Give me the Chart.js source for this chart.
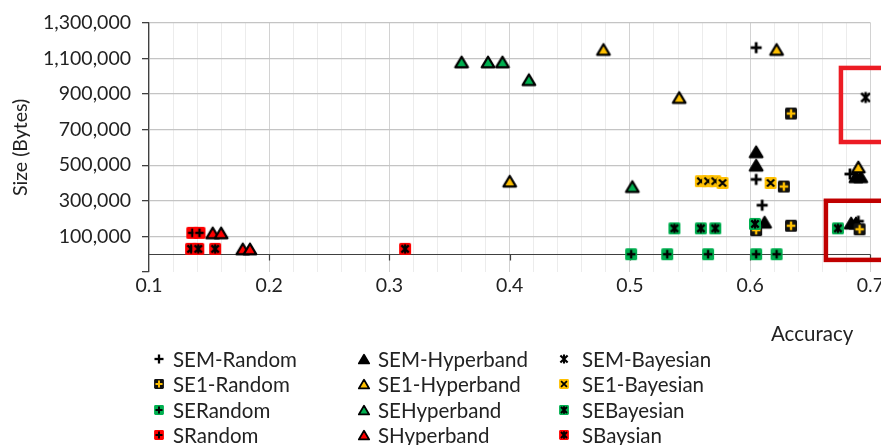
<!DOCTYPE html>
<html>
<head>
<meta charset="utf-8">
<script src="https://cdn.jsdelivr.net/npm/chart.js@4.4.1/dist/chart.umd.min.js"></script>
<style>
  html, body { margin: 0; padding: 0; background: #fff; overflow: hidden; width: 881px; height: 445px; }
  #wrap { position: absolute; left: 0; top: 0; width: 886px; height: 296px; }
  #legend { position: absolute; left: 0; top: 0; width: 881px; height: 445px; pointer-events: none;
            font-family: Lato, "Liberation Sans", sans-serif; font-size: 20.5px; color: #222; }
  .item { position: absolute; height: 24px; line-height: 24px; white-space: nowrap; }
  .swatch { position: absolute; }
  #xtitle { position: absolute; left: 771px; top: 321px; height: 24px; line-height: 24px;
            font-family: Lato, "Liberation Sans", sans-serif; font-size: 20.5px; color: #222; white-space: nowrap; }
</style>
</head>
<body>
<div id="wrap"><canvas id="chart"></canvas></div>
<div id="legend"></div>
<div id="xtitle">Accuracy</div>
<script>
// Series names, in legend order (row by row)
const seriesNames = [
  'SEM-Random', 'SEM-Hyperband', 'SEM-Bayesian',
  'SE1-Random', 'SE1-Hyperband', 'SE1-Bayesian',
  'SERandom', 'SEHyperband', 'SEBayesian',
  'SRandom', 'SHyperband', 'SBaysian'
];

// Each point is [accuracy, size in bytes]
const semRandom     = [[0.605, 1160000], [0.605, 420000], [0.610, 275000], [0.683, 450000], [0.690, 185000]];
const semHyperband  = [[0.605, 575000], [0.605, 500000], [0.612, 180000], [0.688, 435000], [0.692, 435000], [0.684, 175000], [0.688, 175000]];
const semBayesian   = [[0.696, 880000]];
const se1Random     = [[0.634, 790000], [0.628, 380000], [0.634, 160000], [0.691, 140000], [0.605, 135000]];
const se1Hyperband  = [[0.400, 410000], [0.478, 1150000], [0.541, 880000], [0.622, 1150000], [0.690, 490000]];
const se1Bayesian   = [[0.559, 410000], [0.565, 410000], [0.571, 410000], [0.577, 400000], [0.617, 400000]];
const seRandom      = [[0.501, 0], [0.531, 0], [0.565, 0], [0.605, 0], [0.622, 0]];
const seHyperband   = [[0.360, 1080000], [0.382, 1080000], [0.394, 1080000], [0.416, 980000], [0.502, 380000]];
const seBayesian    = [[0.537, 145000], [0.559, 145000], [0.571, 145000], [0.604, 170000], [0.673, 145000]];
const sRandom       = [[0.136, 120000], [0.142, 120000]];
const sHyperband    = [[0.153, 120000], [0.160, 120000], [0.178, 30000], [0.184, 30000]];
const sBaysian      = [[0.135, 30000], [0.141, 30000], [0.155, 30000], [0.313, 30000]];

const seriesData = [semRandom, semHyperband, semBayesian, se1Random, se1Hyperband, se1Bayesian,
                    seRandom, seHyperband, seBayesian, sRandom, sHyperband, sBaysian];

// Axis ticks
const sizeTicks = [100000, 300000, 500000, 700000, 900000, 1100000, 1300000];
const accuracyTicks = [0.1, 0.2, 0.3, 0.4, 0.5, 0.6, 0.7];

// Highlighted regions (accuracy range, size range)
const highlights = [
  { acc: [0.6755, 0.80], size: [630000, 1046000], color: '#EC1C24' },
  { acc: [0.663, 0.80], size: [-32000, 300000], color: '#C00000' }
];

const YELLOW = '#FFC000', GREEN = '#00B050', RED = '#FF0000', INK = '#000000';

// Marker look for each series
const markerStyles = [
  ['plus', INK, INK], ['triangle', INK, INK], ['star', INK, INK],
  ['boxPlus', '#111111', YELLOW], ['triangle', YELLOW, INK], ['boxCross', YELLOW, INK],
  ['boxPlus', GREEN, INK], ['triangle', GREEN, INK], ['boxStar', GREEN, INK],
  ['boxPlus', RED, INK], ['triangle', RED, INK], ['boxStar', RED, INK]
];

function roundRect(g, x, y, w, h, r) {
  g.beginPath();
  g.moveTo(x + r, y);
  g.lineTo(x + w - r, y); g.quadraticCurveTo(x + w, y, x + w, y + r);
  g.lineTo(x + w, y + h - r); g.quadraticCurveTo(x + w, y + h, x + w - r, y + h);
  g.lineTo(x + r, y + h); g.quadraticCurveTo(x, y + h, x, y + h - r);
  g.lineTo(x, y + r); g.quadraticCurveTo(x, y, x + r, y);
  g.closePath();
}

function markerCanvas(kind, fill, ink, scale) {
  const s = 18;
  const c = document.createElement('canvas');
  c.width = s; c.height = s;
  const g = c.getContext('2d');
  g.translate(s / 2, s / 2);
  g.scale(scale, scale);
  const box = () => { g.fillStyle = fill; roundRect(g, -6, -6, 12, 12, 1.6); g.fill(); };
  const plus = (a, w) => { g.fillStyle = ink; g.fillRect(-a, -w / 2, 2 * a, w); g.fillRect(-w / 2, -a, w, 2 * a); };
  const cross = (a, w) => {
    g.strokeStyle = ink; g.lineWidth = w; g.lineCap = 'butt';
    g.beginPath(); g.moveTo(-a, -a); g.lineTo(a, a); g.moveTo(a, -a); g.lineTo(-a, a); g.stroke();
  };
  const star = (a, w) => {
    cross(a * 0.8, w);
    g.beginPath(); g.moveTo(0, -a); g.lineTo(0, a); g.stroke();
  };
  switch (kind) {
    case 'plus': plus(5.5, 2.8); break;
    case 'boxPlus': box(); plus(4.3, 2.4); break;
    case 'triangle':
      g.beginPath(); g.moveTo(0, -5.3); g.lineTo(6.3, 5.4); g.lineTo(-6.3, 5.4); g.closePath();
      g.fillStyle = fill; g.fill();
      g.lineWidth = 2.2; g.lineJoin = 'round'; g.strokeStyle = ink; g.stroke();
      break;
    case 'star': star(5.5, 2.6); break;
    case 'boxStar': box(); star(4.6, 2.3); break;
    case 'boxCross': box(); cross(3.6, 2.1); break;
  }
  return c;
}

const fmt = v => String(v).replace(/\B(?=(\d{3})+(?!\d))/g, ',');
const FONT = 'Lato, "Liberation Sans", sans-serif';
const TEXT = '#222222';

// Horizontal axis line at size 0 with its tick marks
const zeroLinePlugin = {
  id: 'zeroLine',
  beforeDatasetsDraw(chart) {
    const { ctx, chartArea, scales } = chart;
    const y0 = Math.round(scales.y.getPixelForValue(0)) + 0.5;
    ctx.save();
    ctx.strokeStyle = '#404040';
    ctx.lineWidth = 1.2;
    ctx.beginPath();
    ctx.moveTo(chartArea.left, y0); ctx.lineTo(chartArea.right, y0);
    accuracyTicks.slice(1).forEach(v => {
      const x = Math.round(scales.x.getPixelForValue(v)) + 0.5;
      ctx.moveTo(x, y0); ctx.lineTo(x, y0 + 6);
    });
    ctx.stroke();
    ctx.restore();
  }
};

// Outline boxes around regions of interest
const highlightPlugin = {
  id: 'highlight',
  afterDraw(chart) {
    const { ctx, scales } = chart;
    ctx.save();
    highlights.forEach(h => {
      const x0 = scales.x.getPixelForValue(h.acc[0]), x1 = scales.x.getPixelForValue(h.acc[1]);
      const y0 = scales.y.getPixelForValue(h.size[1]), y1 = scales.y.getPixelForValue(h.size[0]);
      ctx.strokeStyle = h.color;
      ctx.lineWidth = 4.5;
      ctx.strokeRect(x0, y0, x1 - x0, y1 - y0);
    });
    ctx.restore();
  }
};

const datasets = seriesNames.map((name, i) => ({
  label: name,
  data: seriesData[i].map(([acc, size]) => ({ x: acc, y: size })),
  pointStyle: markerCanvas(markerStyles[i][0], markerStyles[i][1], markerStyles[i][2], 1),
  pointRadius: 6,
  order: seriesNames.length - i
}));

new Chart(document.getElementById('chart'), {
  type: 'scatter',
  data: { datasets },
  options: {
    responsive: true,
    maintainAspectRatio: false,
    animation: false,
    layout: { padding: { top: 22, right: 14, left: 0, bottom: 0 } },
    plugins: { legend: { display: false }, tooltip: { enabled: false } },
    scales: {
      x: {
        type: 'linear', min: 0.1, max: 0.7,
        afterBuildTicks(scale) {
          const ticks = [];
          for (let i = 0; i < accuracyTicks.length - 1; i++) {
            for (let k = 0; k < 5; k++) {
              ticks.push({ value: Math.round((accuracyTicks[i] + k * 0.02) * 1000) / 1000 });
            }
          }
          ticks.push({ value: accuracyTicks[accuracyTicks.length - 1] });
          scale.ticks = ticks;
        },
        afterFit(scale) { scale.height = 24; },
        border: { display: false },
        grid: {
          drawTicks: false,
          color: c => accuracyTicks.some(v => Math.abs(v - c.tick.value) < 1e-6) ? '#d2d2d2' : '#ececec',
          lineWidth: 1
        },
        ticks: {
          autoSkip: false, maxRotation: 0, padding: 2,
          color: TEXT, font: { family: FONT, size: 19.5 },
          callback: v => {
            const m = accuracyTicks.find(t => Math.abs(t - v) < 1e-6);
            return m === undefined ? '' : String(m);
          }
        }
      },
      y: {
        type: 'linear', min: -100000, max: 1300000,
        afterBuildTicks(scale) {
          scale.ticks = [{ value: -100000 }].concat(sizeTicks.map(v => ({ value: v })));
        },
        afterFit(scale) { scale.width = 149; },
        border: { color: '#404040', width: 1.2 },
        grid: {
          color: c => c.tick && c.tick.value < 0 ? 'rgba(0,0,0,0)' : '#c4c4c4',
          lineWidth: 1.3,
          tickLength: 7,
          tickColor: '#404040'
        },
        ticks: {
          padding: 11, color: TEXT, font: { family: FONT, size: 19.5 },
          callback: v => sizeTicks.includes(v) ? fmt(v) : ''
        },
        title: {
          display: true, text: 'Size (Bytes)', color: TEXT,
          font: { family: FONT, size: 19.5 }, padding: { top: 9, bottom: 0 }
        }
      }
    }
  },
  plugins: [zeroLinePlugin, highlightPlugin]
});

// Legend laid out in three columns
const legend = document.getElementById('legend');
const colMarkerX = [159, 364, 564];
const colTextX = [173, 378, 582];
seriesNames.forEach((name, i) => {
  const col = i % 3, row = Math.floor(i / 3);
  const cy = 359 + row * 25.3;
  const sw = markerCanvas(markerStyles[i][0], markerStyles[i][1], markerStyles[i][2], 0.82);
  sw.className = 'swatch';
  sw.style.left = (colMarkerX[col] - 9) + 'px';
  sw.style.top = (cy - 9) + 'px';
  legend.appendChild(sw);
  const t = document.createElement('div');
  t.className = 'item';
  t.style.left = colTextX[col] + 'px';
  t.style.top = (cy - 12) + 'px';
  t.textContent = name;
  legend.appendChild(t);
});
</script>
</body>
</html>
